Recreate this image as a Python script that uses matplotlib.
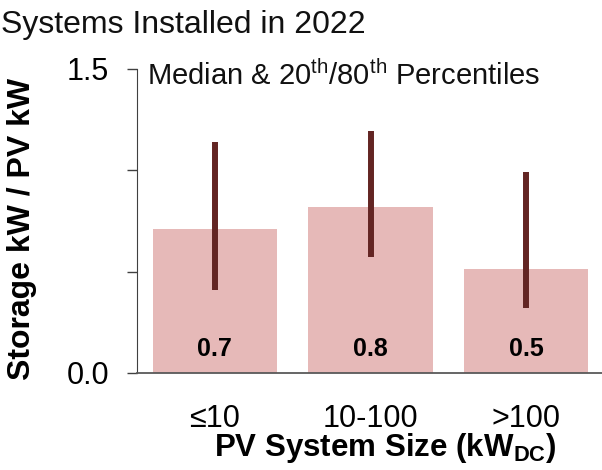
import matplotlib
matplotlib.use("Agg")
import matplotlib.pyplot as plt

plt.rcParams['font.family'] = ['Liberation Sans', 'DejaVu Sans']
plt.rcParams['mathtext.fontset'] = 'custom'
plt.rcParams['mathtext.rm'] = 'Liberation Sans'
plt.rcParams['mathtext.bf'] = 'Liberation Sans:bold'
plt.rcParams['mathtext.it'] = 'Liberation Sans:italic'

categories = ["≤10", "10-100", ">100"]
median = [0.71, 0.82, 0.51]
p20 = [0.41, 0.57, 0.32]
p80 = [1.14, 1.19, 0.99]
value_labels = ["0.7", "0.8", "0.5"]
yticks = [0.0, 0.5, 1.0, 1.5]
ytick_labels = ["0.0", "", "", "1.5"]

W, H = 602, 470
fig = plt.figure(figsize=(W / 100, H / 100), dpi=100)
ax = fig.add_axes([137 / W, 1 - 373 / H, (604 - 137) / W, (373 - 68.5) / H])

x = list(range(len(categories)))
ax.bar(x, median, width=0.8, color='#E6B9B8', zorder=1)
ax.vlines(x, p20, p80, colors='#632523', linewidth=4.3, zorder=2)
for xi, lab in zip(x, value_labels):
    ax.text(xi, 0.12, lab, ha='center', va='center', fontsize=18,
            fontweight='bold', color='black', zorder=3)

ax.set_xlim(-0.5, 2.5)
ax.set_ylim(0, 1.5)
ax.set_yticks(yticks)
ax.set_yticklabels(ytick_labels)
ax.set_xticks(x)
ax.set_xticklabels(categories)
ax.tick_params(axis='y', direction='out', length=7.2, width=1, pad=13,
               labelsize=22, color='#404040')
ax.tick_params(axis='x', length=0, pad=22, labelsize=22)
for s in ['top', 'right']:
    ax.spines[s].set_visible(False)
ax.spines['left'].set_color('#404040')
ax.spines['bottom'].set_color('#595959')
ax.spines['bottom'].set_linewidth(1.3)

fig.text(0.002, 1 - 33 / H, "Systems Installed in 2022", fontsize=23,
         ha='left', va='baseline', color='#111111')
fig.text(147 / W, 1 - 85 / H,
         r"Median & 20$^{\mathrm{th}}$/80$^{\mathrm{th}}$ Percentiles",
         fontsize=21, ha='left', va='baseline', color='#111111')
fig.text(22 / W, 1 - 229 / H, "Storage kW / PV kW", rotation=90,
         fontsize=23, fontweight='bold', ha='center', va='center')
fig.text(385 / W, 1 - 456 / H, r"PV System Size (kW$_{\mathbf{DC}}$)",
         fontsize=22.5, fontweight='bold', ha='center', va='baseline')

fig.savefig("out.png", dpi=100)
